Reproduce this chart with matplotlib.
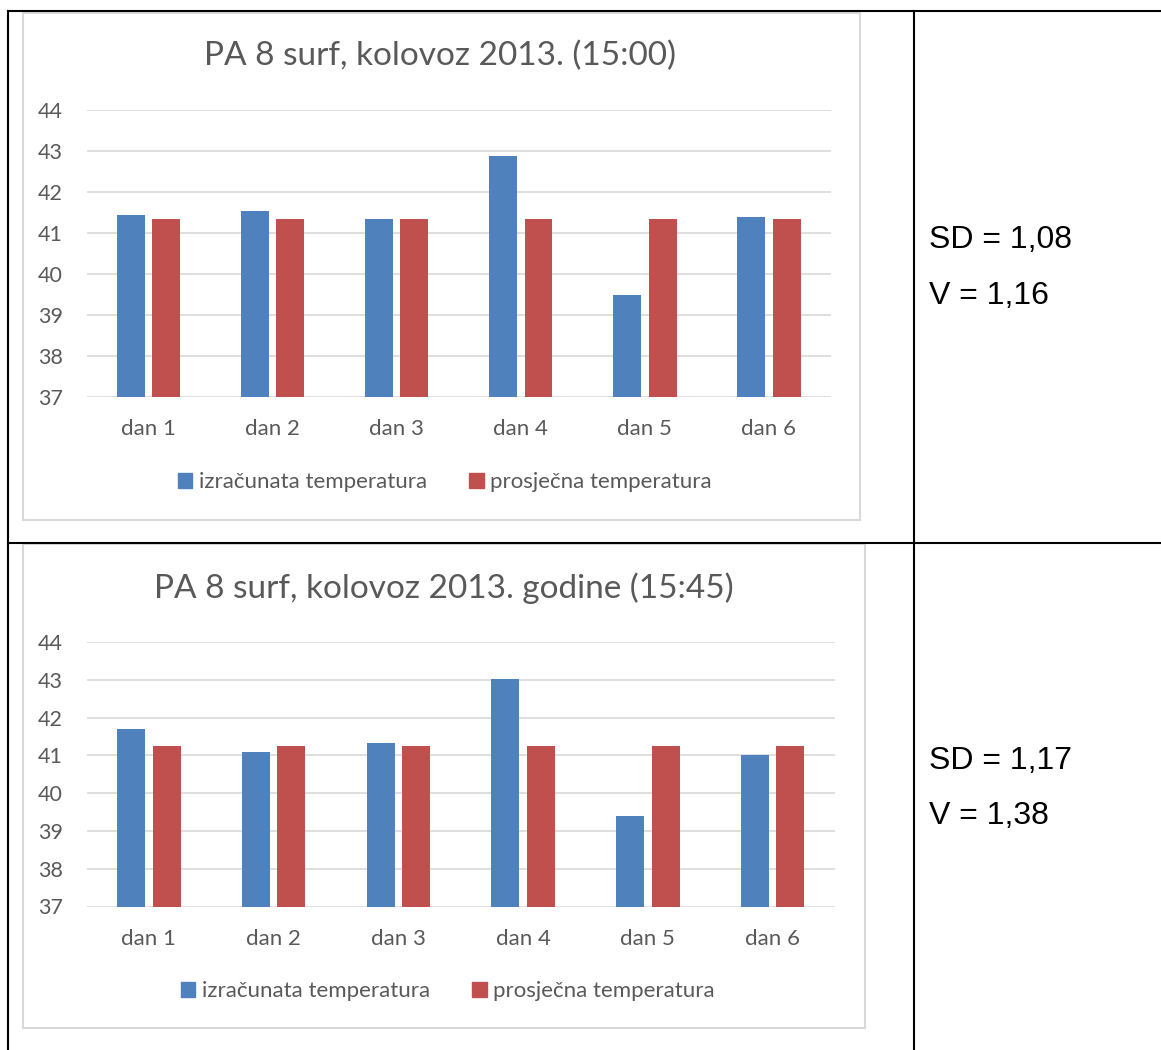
import matplotlib.pyplot as plt
import numpy as np
from matplotlib.patches import Rectangle, Patch

plt.rcParams['font.family'] = ['Lato', 'DejaVu Sans']

dani = ['dan 1', 'dan 2', 'dan 3', 'dan 4', 'dan 5', 'dan 6']
izr_1500 = [41.43, 41.53, 41.33, 42.87, 39.48, 41.39]
pros_1500 = [41.33, 41.33, 41.33, 41.33, 41.33, 41.33]
izr_1545 = [41.71, 41.10, 41.32, 43.03, 39.40, 41.02]
pros_1545 = [41.26, 41.26, 41.26, 41.26, 41.26, 41.26]
naslovi = ['PA 8 surf, kolovoz 2013. (15:00)',
           'PA 8 surf, kolovoz 2013. godine (15:45)']
sd_tekst = [['SD = 1,08', 'V = 1,16'], ['SD = 1,17', 'V = 1,38']]
serije = ['izračunata temperatura', 'prosječna temperatura']

W, H = 1161, 1050
PLAVA = '#4F81BD'
CRVENA = '#C0504D'
SIVA = '#595959'

fig = plt.figure(figsize=(W / 100, H / 100), dpi=100)

# background axes in pixel coords for the table + chart frames
bg = fig.add_axes([0, 0, 1, 1])
bg.set_xlim(0, W)
bg.set_ylim(H, 0)
bg.axis('off')


def px_axes(x0, y0, x1, y1):
    return fig.add_axes([x0 / W, 1 - y1 / H, (x1 - x0) / W, (y1 - y0) / H])


# table lines
lw_tab = 1.5
bg.plot([7.5, W], [11, 11], color='black', lw=lw_tab)
bg.plot([7.5, W], [542.5, 542.5], color='black', lw=lw_tab)
bg.plot([7.5, 7.5], [11, H], color='black', lw=lw_tab)
bg.plot([913.5, 913.5], [11, H], color='black', lw=lw_tab)

okviri = [(23, 13, 860, 520), (23, 544, 865, 1028)]
osi = [(86.5, 110, 831, 397), (86.5, 642, 835, 906.5)]
legende = [(445, 482), (448, 991)]
sd_y = [(240, 296), (761, 816)]
naslov = [(440.5, 56), (443.5, 588)]

for k in range(2):
    fx0, fy0, fx1, fy1 = okviri[k]
    bg.add_patch(Rectangle((fx0, fy0), fx1 - fx0, fy1 - fy0, fill=False,
                           edgecolor='#d9d9d9', lw=1.5))
    bg.text(naslov[k][0], naslov[k][1], naslovi[k],
            ha='center', va='center', fontsize=24, color=SIVA)
    bg.text(929, sd_y[k][0], sd_tekst[k][0], ha='left', va='center',
            fontsize=23, family='Liberation Sans', color='black')
    bg.text(929, sd_y[k][1], sd_tekst[k][1], ha='left', va='center',
            fontsize=23, family='Liberation Sans', color='black')

    izr = [izr_1500, izr_1545][k]
    pros = [pros_1500, pros_1545][k]
    ax = px_axes(*osi[k])
    x = np.arange(len(dani))
    w = 0.225
    off = 0.143
    ax.bar(x - off, izr, width=w, color=PLAVA, zorder=3)
    ax.bar(x + off, pros, width=w, color=CRVENA, zorder=3)
    ax.set_xlim(-0.5, 5.5)
    ax.set_ylim(37, 44)
    ax.set_yticks(range(37, 45))
    ax.set_xticks(x)
    ax.set_xticklabels(dani)
    ax.tick_params(length=0, labelcolor=SIVA)
    ax.tick_params(axis='y', pad=17, labelsize=15.5)
    ax.tick_params(axis='x', pad=16, labelsize=16)
    ax.grid(axis='y', color='#d9d9d9', lw=1.2, zorder=0)
    ax.set_axisbelow(True)
    for s in ax.spines.values():
        s.set_visible(False)
    ax.patch.set_alpha(0)

    ruke = [Patch(color=PLAVA), Patch(color=CRVENA)]
    lx, ly = legende[k]
    fig.legend(ruke, serije, loc='center', bbox_to_anchor=(lx / W, 1 - ly / H),
               ncol=2, frameon=False, fontsize=16, labelcolor=SIVA,
               handlelength=0.65, handleheight=0.65, handletextpad=0.3,
               columnspacing=1.9)

plt.savefig('out.png', dpi=100)
